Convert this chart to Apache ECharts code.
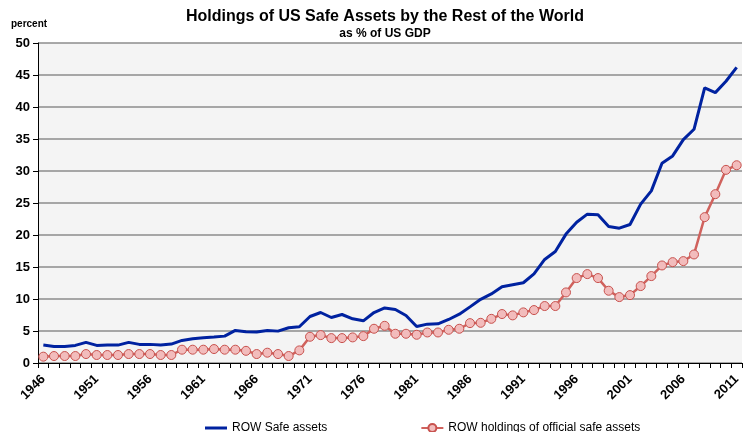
<!DOCTYPE html>
<html><head><meta charset="utf-8">
<script src="https://cdn.jsdelivr.net/npm/echarts@6/dist/echarts.min.js"></script>
<style>html,body{margin:0;padding:0;background:#fff}#c{width:744px;height:432px}</style>
</head><body><div id="c"></div>
<script>
const years = [];
for (let y = 1946; y <= 2011; y++) years.push(String(y));
const yTicks = [0,5,10,15,20,25,30,35,40,45,50];
const rowSafe = [
 2.80,2.59,2.59,2.75,3.22,2.75,2.80,2.80,3.22,2.91,
 2.91,2.80,2.96,3.53,3.79,3.94,4.05,4.20,5.09,4.90,
 4.83,5.09,4.98,5.50,5.66,7.27,7.89,7.11,7.58,6.90,
 6.59,7.89,8.61,8.35,7.42,5.71,6.07,6.12,6.80,7.63,
 8.77,9.95,10.80,11.91,12.23,12.54,13.94,16.18,17.43,20.14,
 22.00,23.26,23.15,21.33,21.07,21.64,24.82,26.90,31.22,32.36,
 34.91,36.52,42.98,42.25,44.02,46.20
];
const rowOfficial = [
 0.99,1.09,1.09,1.09,1.40,1.25,1.25,1.25,1.40,1.40,
 1.40,1.25,1.25,2.08,2.08,2.08,2.18,2.08,2.08,1.90,
 1.40,1.61,1.40,1.09,1.97,4.10,4.36,3.89,3.89,4.00,
 4.20,5.35,5.81,4.57,4.57,4.41,4.77,4.77,5.19,5.35,
 6.23,6.28,6.90,7.65,7.44,7.91,8.27,8.90,8.90,11.03,
 13.27,13.89,13.27,11.29,10.30,10.61,12.02,13.58,15.24,15.76,
 15.92,16.96,22.79,26.38,30.18,30.90
];
const chart = echarts.init(document.getElementById('c'), null, {renderer:'canvas'});
const F = 'Liberation Sans, Arial, sans-serif';
chart.setOption({
  animation:false,
  backgroundColor:'#fff',
  title:[
    {text:'Holdings of US Safe Assets by the Rest of the World', left:380, textAlign:'center', top:4,
     textStyle:{fontFamily:F,fontSize:16,fontWeight:'bold',color:'#000'}},
    {text:'as % of US GDP', left:380, textAlign:'center', top:23,
     textStyle:{fontFamily:F,fontSize:12,fontWeight:'bold',color:'#000'}},
    {text:'percent', left:6, top:14, textStyle:{fontFamily:F,fontSize:10,fontWeight:'bold',color:'#000'}}
  ],
  legend:{
    top:417, left:200, itemGap:93, itemWidth:22, itemHeight:10,
    textStyle:{fontFamily:F,fontSize:12,color:'#000'},
    data:[
      {name:'ROW Safe assets', icon:'path://M0,0 L22,0 L22,3 L0,3 Z'},
      {name:'ROW holdings of official safe assets'}
    ]
  },
  grid:{left:38, top:43, right:2, bottom:69, show:true, backgroundColor:'#f4f4f4', borderWidth:0},
  xAxis:{
    type:'category', data:years, boundaryGap:true,
    axisLine:{lineStyle:{color:'#000',width:1}},
    axisTick:{show:true, interval:0, length:5, lineStyle:{color:'#000'}},
    axisLabel:{interval:4, rotate:45, fontFamily:F, fontSize:13, fontWeight:'bold', color:'#000', margin:14}
  },
  yAxis:{
    type:'value', min:0, max:50, interval:5,
    axisLine:{show:true, lineStyle:{color:'#000',width:1}},
    axisTick:{show:true, length:5, lineStyle:{color:'#000'}},
    axisLabel:{fontFamily:F, fontSize:13, fontWeight:'bold', color:'#000', margin:8,
      formatter:v=>yTicks.includes(v)?String(v):''},
    splitLine:{show:true, lineStyle:{color:'#8c8c8c', width:1.5}}
  },
  series:[
    {name:'ROW Safe assets', type:'line', data:rowSafe, symbol:'none',
     lineStyle:{color:'#0022a0', width:3}, itemStyle:{color:'#0022a0'}},
    {name:'ROW holdings of official safe assets', type:'line', data:rowOfficial,
     symbol:'circle', symbolSize:9, showAllSymbol:true,
     lineStyle:{color:'#d0625d', width:2.5},
     itemStyle:{color:'#f2bcbc', borderColor:'#c8524e', borderWidth:1}}
  ]
});
</script></body></html>
